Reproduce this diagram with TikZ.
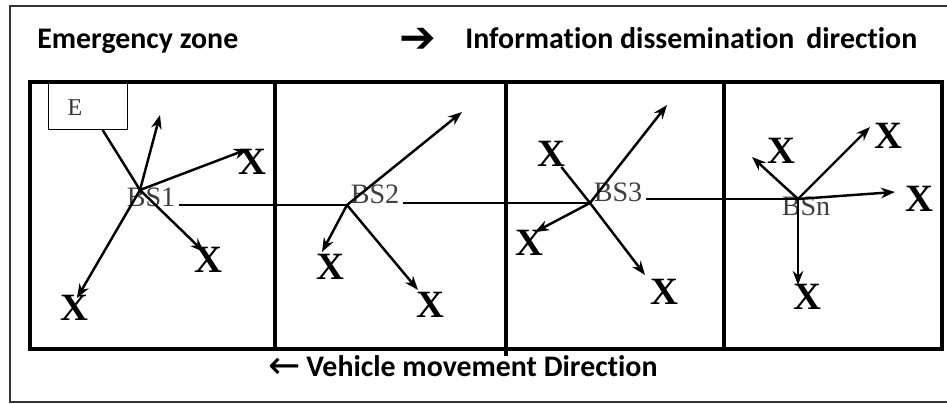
\documentclass[tikz,border=0pt]{standalone}
\usepackage{fontspec}
\setmainfont{Liberation Serif}
\newfontfamily\calib[Ligatures=NoCommon]{Carlito}
\newfontfamily\symb{DejaVu Sans}
\usetikzlibrary{arrows.meta}

\tikzset{
  zone/.style={line width=2.4pt},
  link/.style={line width=1.4pt},
  ray/.style={line width=1.4pt, -{Stealth[length=8pt,width=6pt]}},
  xmark/.style={font=\bfseries\fontsize{22}{22}\selectfont, inner sep=0pt},
  bslabel/.style={font=\fontsize{16}{16}\selectfont, text=black!75, inner sep=2pt},
  caption/.style={font=\calib\bfseries\fontsize{17}{20}\selectfont, anchor=base west, inner sep=0pt},
}

\begin{document}
\begin{tikzpicture}[x=0.02cm, y=-0.02cm]
    \useasboundingbox (0,0) rectangle (947,404);

    % Outer frame, cut off on the right
    \draw[line width=0.8pt, black!80] (947,6) -- (10,6) -- (10,402) -- (947,402);

    % Headings
    \node[caption] (ezone) at (37,49) {Emergency zone};
    \node[font=\symb\bfseries\fontsize{25}{25}\selectfont, inner sep=0pt] (iarrow) at (418,40) {➔};
    \node[caption] (idir) at (465,49) {Information dissemination\hspace{0.4em}direction};
    \node[font=\symb\fontsize{22}{22}\selectfont, inner sep=0pt] (varrow) at (285,368) {←};
    \node[caption] (vdir) at (306,377) {Vehicle movement Direction};

    % The four zones
    \draw[zone] (30,82) rectangle (942,349);
    \foreach \xx in {275,724}
        \draw[zone] (\xx,82) -- (\xx,349);
    \draw[zone] (506,82) -- (506,356);

    % Emergency box
    \node[draw, line width=0.6pt, minimum width=1.58cm, minimum height=0.92cm,
          anchor=north west, inner sep=0pt] (ebox) at (48,83) {};
    \node[font=\fontsize{13.7}{14}\selectfont, text=black!80, inner sep=0pt] (elabel) at (75,108) {E};

    % Base stations
    \coordinate (h1) at (140,190);
    \coordinate (h2) at (347,205);
    \coordinate (h3) at (590,203);
    \coordinate (hn) at (798,199);
    \node[bslabel] (bs1) at (151,197) {BS1};
    \node[bslabel] (bs2) at (375,194) {BS2};
    \node[bslabel] (bs3) at (618,192) {BS3};
    \node[bslabel] (bsn) at (806,206) {BSn};

    % Link between the stations
    \draw[link] (bs1.east |- h2) -- (h2);
    \draw[link] (bs2.east |- h3) -- (h3);
    \draw[link] (bs3.east |- hn) -- (hn);

    % Zone 1
    \node[xmark] (x1a) at (252,162) {X};
    \node[xmark] (x1b) at (208,260) {X};
    \node[xmark] (x1c) at (74,308) {X};
    \coordinate (t1u) at (160,115);
    \coordinate (t1a) at (248,149);
    \coordinate (t1b) at (204,252);
    \coordinate (t1c) at (77,298);
    \draw[link] (ebox) -- (h1);
    \draw[ray] (h1) -- (t1u);
    \draw[ray] (h1) -- (t1a);
    \draw[ray] (h1) -- (t1b);
    \draw[ray] (h1) -- (t1c);

    % Zone 2
    \node[xmark] (x2a) at (330,267) {X};
    \node[xmark] (x2b) at (430,305) {X};
    \coordinate (t2u) at (462,112);
    \coordinate (t2a) at (322,252);
    \coordinate (t2b) at (418,290);
    \draw[ray] (h2) -- (t2u);
    \draw[ray] (h2) -- (t2a);
    \draw[ray] (h2) -- (t2b);

    % Zone 3
    \node[xmark] (x3a) at (551,154) {X};
    \node[xmark] (x3b) at (529,243) {X};
    \node[xmark] (x3c) at (664,292) {X};
    \coordinate (t3u) at (667,105);
    \coordinate (t3b) at (535,232);
    \coordinate (t3c) at (645,275);
    \draw[link] (x3a) -- (h3);
    \draw[ray] (h3) -- (t3u);
    \draw[ray] (h3) -- (t3b);
    \draw[ray] (h3) -- (t3c);

    % Zone n
    \node[xmark] (xna) at (781,151) {X};
    \node[xmark] (xnb) at (888,136) {X};
    \node[xmark] (xnc) at (919,199) {X};
    \node[xmark] (xnd) at (807,297) {X};
    \coordinate (tna) at (752,157);
    \coordinate (tnb) at (870,127);
    \coordinate (tnc) at (895,192);
    \coordinate (tnd) at (798,285);
    \draw[ray] (hn) -- (tna);
    \draw[ray] (hn) -- (tnb);
    \draw[ray] (hn) -- (tnc);
    \draw[ray] (hn) -- (tnd);
\end{tikzpicture}
\end{document}
